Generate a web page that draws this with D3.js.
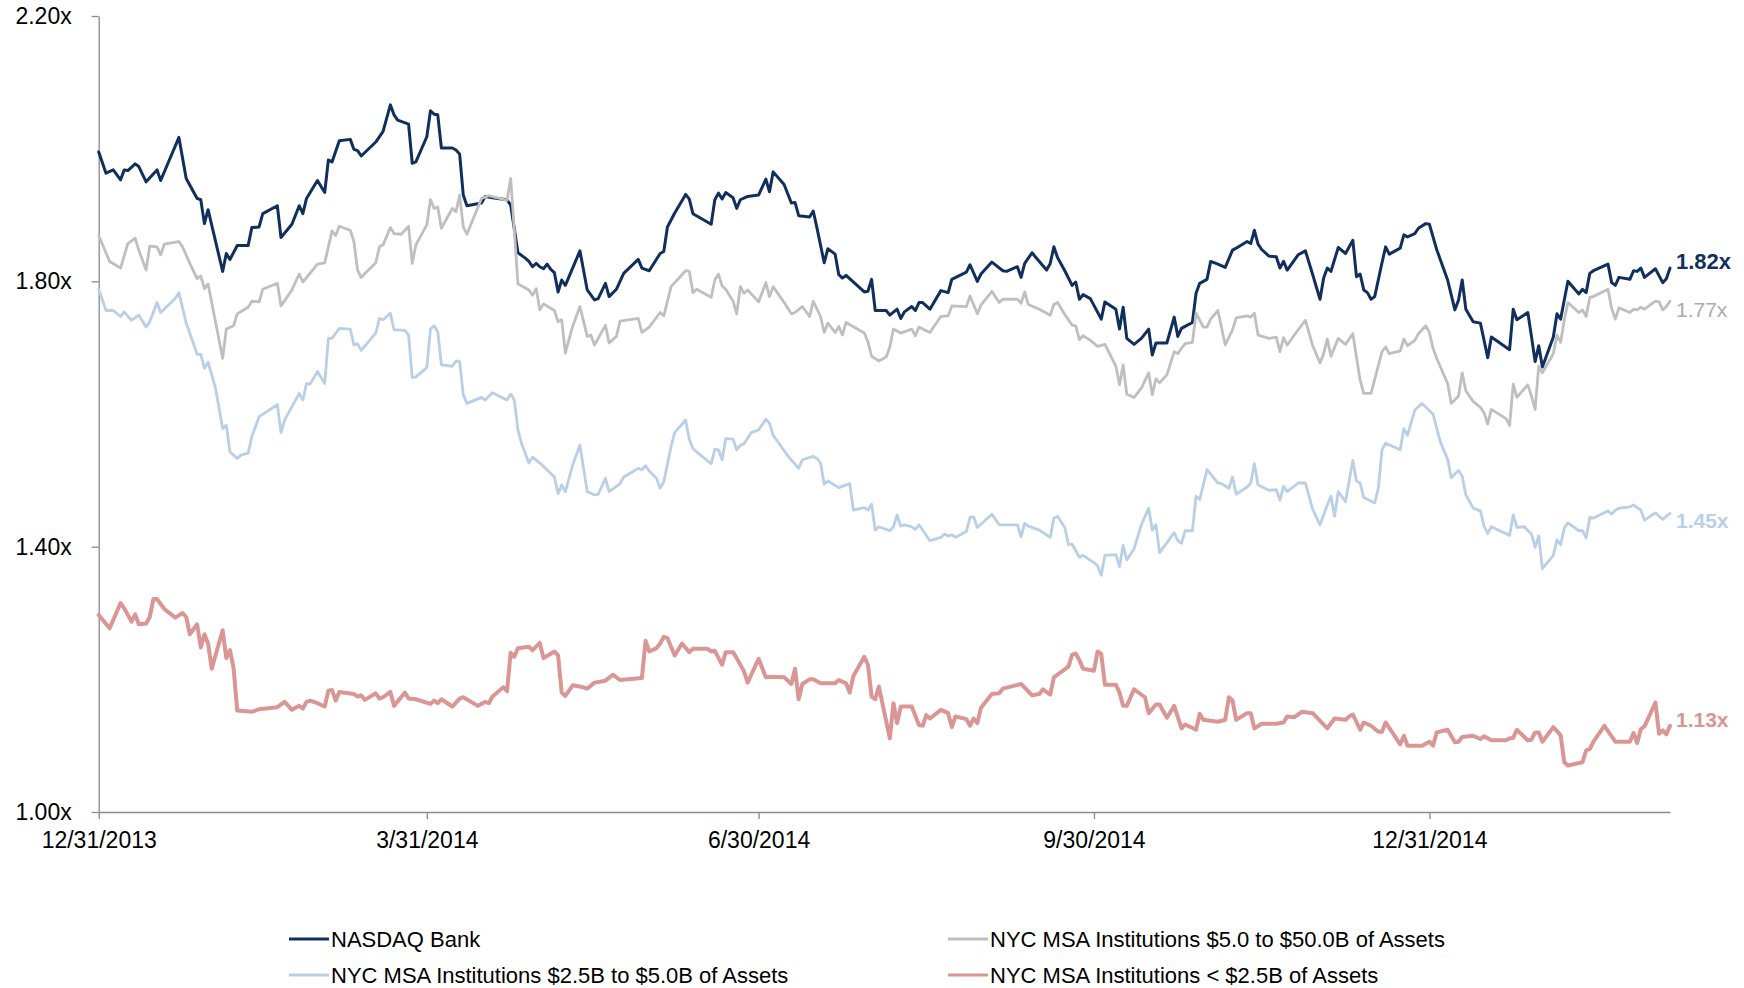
<!DOCTYPE html>
<html>
<head>
<meta charset="utf-8">
<script src="https://cdn.jsdelivr.net/npm/d3@7"></script>
<style>
  html, body { margin: 0; padding: 0; background: #fff; }
  svg { display: block; font-family: "Liberation Sans", Arial, Helvetica, sans-serif; }
</style>
</head>
<body>
<svg id="chart" width="1744" height="988"></svg>
<script>
// Price / tangible book multiples, sampled as [days after 12/31/2013, multiple]
const startDate = Date.UTC(2013, 11, 31);
const lastDay = 431;

const tickDates = [Date.UTC(2013, 11, 31), Date.UTC(2014, 2, 31), Date.UTC(2014, 5, 30), Date.UTC(2014, 8, 30), Date.UTC(2014, 11, 31)];
const tickLabels = ["12/31/2013", "3/31/2014", "6/30/2014", "9/30/2014", "12/31/2014"];
const yTicks = [1.0, 1.4, 1.8, 2.2];

const seriesNames = [
  "NASDAQ Bank",
  "NYC MSA Institutions $5.0 to $50.0B of Assets",
  "NYC MSA Institutions $2.5B to $5.0B of Assets",
  "NYC MSA Institutions < $2.5B of Assets"
];

const nasdaqBank = [[0,1.995],[2,1.963],[4,1.968],[6,1.953],[7,1.968],[8,1.967],[10,1.977],[11,1.973],[13,1.950],[16,1.968],[17,1.952],[22,2.017],[24,1.955],[27,1.925],[28,1.923],[29,1.887],[30,1.908],[34,1.815],[35,1.842],[36,1.833],[38,1.854],[41,1.854],[42,1.881],[44,1.882],[45,1.902],[49,1.914],[50,1.866],[53,1.886],[55,1.914],[56,1.902],[57,1.925],[60,1.952],[62,1.934],[63,1.983],[64,1.980],[66,2.012],[69,2.014],[70,1.999],[71,1.997],[72,1.989],[76,2.010],[78,2.026],[80,2.066],[81,2.051],[82,2.043],[85,2.037],[86,1.978],[87,1.980],[90,2.018],[91,2.057],[92,2.052],[93,2.051],[94,2.001],[97,2.001],[98,1.998],[99,1.992],[100,1.930],[101,1.914],[105,1.918],[106,1.928],[108,1.926],[112,1.923],[113,1.915],[115,1.843],[117,1.835],[118,1.830],[119,1.822],[120,1.827],[121,1.822],[122,1.819],[123,1.826],[124,1.818],[125,1.813],[126,1.784],[127,1.802],[128,1.794],[132,1.846],[134,1.787],[136,1.772],[137,1.774],[139,1.797],[140,1.777],[142,1.788],[144,1.812],[148,1.833],[149,1.820],[151,1.816],[154,1.842],[155,1.845],[156,1.882],[158,1.903],[161,1.931],[162,1.924],[163,1.902],[168,1.886],[169,1.923],[170,1.933],[171,1.924],[172,1.934],[174,1.926],[175,1.910],[176,1.923],[178,1.928],[181,1.930],[183,1.954],[184,1.935],[185,1.965],[188,1.946],[190,1.918],[191,1.919],[192,1.899],[195,1.897],[196,1.906],[197,1.881],[199,1.828],[200,1.849],[202,1.841],[203,1.810],[204,1.805],[205,1.809],[210,1.784],[211,1.785],[212,1.803],[213,1.756],[216,1.756],[217,1.749],[219,1.758],[220,1.744],[221,1.754],[223,1.762],[224,1.756],[225,1.768],[226,1.768],[228,1.758],[231,1.786],[233,1.783],[234,1.803],[238,1.814],[239,1.825],[241,1.800],[242,1.811],[245,1.829],[248,1.816],[249,1.815],[252,1.822],[253,1.806],[254,1.827],[256,1.843],[258,1.830],[260,1.817],[261,1.827],[262,1.852],[263,1.836],[265,1.816],[267,1.794],[268,1.799],[269,1.773],[270,1.780],[272,1.774],[275,1.743],[276,1.769],[279,1.758],[280,1.728],[281,1.761],[282,1.714],[284,1.705],[286,1.714],[288,1.728],[289,1.689],[290,1.707],[293,1.707],[295,1.746],[296,1.717],[297,1.729],[298,1.732],[300,1.738],[301,1.782],[302,1.797],[304,1.803],[305,1.830],[307,1.826],[309,1.821],[311,1.847],[312,1.850],[315,1.860],[316,1.857],[317,1.877],[318,1.856],[319,1.848],[321,1.838],[323,1.837],[324,1.820],[325,1.830],[326,1.817],[329,1.840],[331,1.846],[333,1.810],[335,1.773],[336,1.805],[337,1.820],[338,1.815],[340,1.851],[342,1.842],[344,1.862],[345,1.807],[346,1.811],[347,1.787],[348,1.783],[349,1.773],[350,1.777],[352,1.828],[353,1.852],[354,1.841],[357,1.850],[358,1.870],[359,1.867],[361,1.872],[362,1.880],[364,1.887],[365,1.886],[366,1.867],[367,1.848],[370,1.802],[372,1.757],[373,1.772],[374,1.802],[375,1.758],[377,1.739],[379,1.737],[381,1.685],[382,1.716],[387,1.697],[388,1.758],[389,1.742],[392,1.753],[393,1.717],[394,1.679],[395,1.703],[396,1.671],[399,1.716],[400,1.751],[401,1.743],[402,1.772],[403,1.800],[406,1.781],[407,1.788],[408,1.783],[409,1.812],[410,1.816],[414,1.826],[415,1.798],[416,1.794],[417,1.806],[420,1.803],[421,1.816],[422,1.815],[423,1.820],[424,1.806],[427,1.819],[429,1.798],[430,1.804],[431,1.82]];

const nyc5to50 = [[0,1.869],[3,1.830],[6,1.820],[8,1.857],[10,1.865],[11,1.847],[13,1.817],[14,1.853],[16,1.852],[17,1.840],[18,1.856],[22,1.860],[23,1.852],[25,1.827],[27,1.804],[28,1.808],[29,1.789],[30,1.796],[34,1.684],[35,1.728],[37,1.733],[38,1.751],[41,1.761],[42,1.770],[44,1.769],[45,1.788],[49,1.797],[50,1.763],[53,1.787],[55,1.811],[56,1.799],[60,1.826],[62,1.828],[64,1.876],[65,1.869],[66,1.883],[69,1.877],[70,1.860],[71,1.817],[72,1.806],[76,1.828],[77,1.852],[78,1.855],[80,1.881],[81,1.872],[83,1.871],[85,1.883],[86,1.827],[87,1.855],[90,1.885],[91,1.923],[92,1.910],[93,1.912],[94,1.880],[97,1.910],[98,1.905],[99,1.930],[100,1.882],[101,1.871],[105,1.925],[107,1.929],[110,1.925],[112,1.922],[113,1.955],[114,1.877],[115,1.796],[118,1.787],[119,1.779],[120,1.789],[121,1.757],[122,1.766],[125,1.756],[126,1.739],[127,1.742],[128,1.692],[130,1.732],[132,1.762],[134,1.717],[135,1.719],[136,1.704],[139,1.734],[140,1.707],[142,1.717],[143,1.740],[148,1.744],[149,1.723],[151,1.731],[154,1.753],[155,1.748],[157,1.792],[161,1.816],[162,1.815],[163,1.783],[164,1.788],[168,1.776],[169,1.802],[170,1.811],[171,1.793],[172,1.788],[174,1.770],[175,1.751],[176,1.792],[177,1.782],[178,1.787],[181,1.769],[183,1.798],[184,1.777],[185,1.792],[188,1.768],[190,1.751],[191,1.753],[193,1.762],[195,1.747],[196,1.770],[198,1.747],[199,1.723],[200,1.737],[202,1.723],[203,1.732],[204,1.719],[205,1.738],[210,1.722],[211,1.709],[212,1.687],[214,1.680],[216,1.686],[217,1.701],[218,1.728],[220,1.722],[223,1.728],[224,1.718],[225,1.731],[226,1.728],[228,1.723],[231,1.747],[233,1.748],[234,1.763],[238,1.762],[239,1.778],[241,1.751],[242,1.764],[245,1.785],[247,1.768],[248,1.773],[249,1.773],[252,1.773],[253,1.767],[254,1.784],[255,1.765],[258,1.758],[261,1.749],[262,1.765],[263,1.768],[265,1.750],[267,1.734],[268,1.733],[269,1.712],[270,1.718],[272,1.711],[274,1.702],[276,1.705],[277,1.694],[279,1.672],[280,1.644],[281,1.674],[282,1.630],[284,1.625],[286,1.639],[288,1.662],[289,1.629],[290,1.653],[291,1.647],[293,1.659],[295,1.694],[296,1.691],[297,1.699],[298,1.706],[300,1.708],[301,1.752],[303,1.731],[304,1.731],[305,1.743],[307,1.756],[309,1.704],[311,1.727],[312,1.745],[315,1.748],[316,1.746],[317,1.752],[318,1.719],[321,1.714],[323,1.716],[324,1.694],[325,1.715],[326,1.704],[329,1.727],[331,1.741],[333,1.703],[335,1.677],[336,1.691],[337,1.713],[338,1.687],[340,1.714],[342,1.705],[344,1.721],[346,1.651],[347,1.631],[349,1.631],[352,1.694],[353,1.701],[354,1.691],[357,1.695],[358,1.713],[359,1.703],[361,1.711],[362,1.721],[364,1.733],[365,1.723],[366,1.699],[367,1.684],[370,1.646],[371,1.616],[373,1.627],[374,1.662],[375,1.635],[377,1.619],[379,1.610],[380,1.602],[381,1.585],[382,1.607],[386,1.593],[387,1.583],[388,1.645],[389,1.625],[392,1.644],[393,1.627],[394,1.607],[395,1.672],[396,1.662],[399,1.691],[400,1.719],[401,1.708],[402,1.742],[403,1.768],[406,1.753],[407,1.757],[408,1.747],[409,1.776],[410,1.777],[414,1.788],[415,1.759],[416,1.743],[417,1.760],[420,1.753],[421,1.758],[422,1.757],[423,1.761],[424,1.758],[427,1.770],[428,1.769],[429,1.757],[430,1.762],[431,1.77]];

const nyc25to5 = [[0,1.788],[2,1.756],[4,1.756],[6,1.747],[7,1.754],[9,1.741],[11,1.749],[13,1.731],[14,1.739],[16,1.768],[17,1.753],[21,1.774],[22,1.783],[24,1.737],[27,1.690],[28,1.690],[29,1.669],[30,1.678],[32,1.640],[34,1.578],[35,1.583],[36,1.543],[38,1.533],[39,1.538],[41,1.541],[42,1.566],[44,1.596],[49,1.614],[50,1.572],[51,1.591],[55,1.631],[56,1.621],[57,1.646],[58,1.645],[60,1.664],[62,1.646],[63,1.714],[64,1.714],[66,1.729],[69,1.728],[70,1.704],[71,1.706],[72,1.696],[76,1.722],[77,1.744],[78,1.742],[80,1.752],[81,1.727],[84,1.726],[85,1.719],[86,1.655],[87,1.656],[90,1.670],[91,1.728],[92,1.733],[93,1.724],[94,1.674],[97,1.672],[98,1.680],[99,1.679],[100,1.629],[101,1.616],[105,1.625],[106,1.621],[108,1.632],[112,1.621],[113,1.630],[114,1.621],[115,1.576],[116,1.555],[118,1.526],[119,1.535],[121,1.526],[125,1.505],[126,1.480],[127,1.493],[128,1.483],[130,1.523],[132,1.553],[134,1.483],[136,1.478],[137,1.479],[139,1.503],[140,1.483],[142,1.491],[143,1.495],[144,1.505],[148,1.518],[149,1.516],[150,1.522],[151,1.514],[153,1.503],[154,1.488],[155,1.498],[157,1.551],[158,1.572],[161,1.591],[162,1.562],[163,1.548],[164,1.543],[168,1.525],[169,1.547],[170,1.546],[171,1.531],[172,1.563],[174,1.562],[175,1.546],[176,1.553],[177,1.555],[179,1.572],[181,1.576],[183,1.592],[184,1.586],[185,1.568],[189,1.537],[192,1.518],[193,1.531],[196,1.536],[197,1.533],[198,1.526],[199,1.494],[200,1.499],[203,1.489],[206,1.495],[207,1.455],[210,1.459],[211,1.455],[212,1.464],[213,1.425],[214,1.430],[217,1.424],[218,1.430],[219,1.448],[220,1.431],[221,1.433],[223,1.430],[224,1.426],[225,1.433],[228,1.409],[231,1.414],[232,1.419],[233,1.416],[234,1.418],[235,1.414],[238,1.423],[239,1.444],[240,1.445],[241,1.429],[245,1.449],[247,1.433],[248,1.433],[252,1.433],[253,1.415],[254,1.435],[255,1.431],[258,1.425],[261,1.414],[262,1.443],[263,1.446],[265,1.429],[266,1.403],[267,1.404],[269,1.384],[270,1.387],[273,1.376],[274,1.371],[275,1.357],[276,1.387],[279,1.388],[280,1.370],[281,1.402],[282,1.380],[284,1.397],[286,1.433],[288,1.458],[289,1.425],[290,1.433],[291,1.391],[295,1.421],[296,1.409],[297,1.405],[298,1.424],[300,1.424],[301,1.476],[302,1.471],[304,1.516],[307,1.496],[308,1.495],[310,1.488],[311,1.505],[312,1.479],[315,1.490],[316,1.496],[317,1.525],[318,1.493],[321,1.485],[323,1.486],[324,1.470],[325,1.491],[326,1.483],[329,1.496],[331,1.496],[333,1.456],[335,1.433],[337,1.463],[338,1.476],[339,1.446],[340,1.483],[342,1.468],[344,1.530],[345,1.499],[346,1.496],[347,1.474],[350,1.466],[351,1.488],[352,1.546],[353,1.556],[357,1.546],[358,1.578],[359,1.568],[361,1.606],[363,1.616],[366,1.600],[368,1.558],[370,1.532],[371,1.504],[373,1.515],[374,1.506],[375,1.478],[377,1.458],[379,1.454],[380,1.431],[381,1.420],[382,1.430],[387,1.417],[388,1.448],[389,1.429],[391,1.430],[393,1.419],[394,1.399],[395,1.416],[396,1.367],[399,1.387],[400,1.410],[401,1.403],[402,1.428],[403,1.436],[406,1.424],[407,1.424],[408,1.413],[409,1.444],[410,1.443],[414,1.454],[415,1.449],[416,1.455],[417,1.458],[420,1.460],[421,1.463],[422,1.459],[423,1.455],[424,1.440],[427,1.451],[429,1.441],[430,1.446],[431,1.45]];

const nycUnder25 = [[0,1.297],[3,1.277],[6,1.315],[7,1.307],[9,1.287],[10,1.298],[11,1.283],[13,1.284],[14,1.294],[15,1.321],[16,1.321],[18,1.306],[21,1.293],[23,1.300],[24,1.294],[25,1.268],[27,1.283],[28,1.248],[29,1.268],[30,1.254],[31,1.216],[34,1.274],[35,1.232],[36,1.244],[37,1.217],[38,1.153],[42,1.151],[44,1.155],[49,1.158],[51,1.166],[53,1.154],[55,1.160],[56,1.156],[57,1.166],[58,1.168],[60,1.164],[62,1.159],[63,1.183],[64,1.184],[65,1.168],[66,1.181],[70,1.178],[71,1.174],[72,1.176],[73,1.169],[76,1.179],[77,1.171],[78,1.173],[80,1.181],[81,1.160],[84,1.180],[85,1.171],[87,1.170],[91,1.163],[92,1.168],[93,1.164],[94,1.170],[97,1.159],[99,1.171],[100,1.173],[104,1.160],[106,1.166],[107,1.164],[108,1.174],[111,1.188],[112,1.182],[113,1.240],[114,1.234],[115,1.247],[118,1.249],[119,1.244],[121,1.255],[122,1.232],[125,1.242],[126,1.236],[127,1.180],[128,1.175],[130,1.191],[133,1.188],[134,1.186],[136,1.195],[139,1.198],[141,1.207],[143,1.199],[149,1.202],[150,1.258],[151,1.242],[153,1.247],[154,1.254],[155,1.264],[156,1.262],[158,1.236],[160,1.254],[162,1.241],[163,1.246],[167,1.246],[168,1.242],[169,1.243],[171,1.222],[172,1.241],[174,1.241],[175,1.232],[177,1.212],[178,1.195],[181,1.231],[183,1.203],[184,1.204],[188,1.203],[190,1.193],[191,1.216],[192,1.170],[193,1.193],[195,1.200],[196,1.200],[198,1.194],[202,1.194],[203,1.199],[205,1.194],[206,1.180],[207,1.205],[210,1.234],[211,1.222],[212,1.174],[213,1.170],[214,1.189],[217,1.111],[218,1.164],[219,1.134],[220,1.159],[223,1.159],[225,1.131],[226,1.130],[227,1.146],[228,1.141],[231,1.154],[233,1.149],[234,1.128],[235,1.144],[238,1.140],[239,1.130],[240,1.141],[241,1.134],[242,1.157],[245,1.178],[247,1.179],[248,1.186],[253,1.193],[256,1.176],[258,1.178],[259,1.185],[261,1.177],[262,1.203],[263,1.207],[266,1.219],[267,1.237],[268,1.239],[269,1.229],[270,1.216],[273,1.213],[274,1.242],[275,1.238],[276,1.192],[279,1.192],[280,1.180],[281,1.160],[282,1.160],[284,1.185],[287,1.173],[288,1.149],[290,1.162],[291,1.162],[293,1.142],[295,1.160],[297,1.126],[298,1.132],[301,1.124],[302,1.148],[303,1.139],[307,1.136],[309,1.139],[310,1.173],[311,1.168],[312,1.139],[315,1.149],[316,1.149],[317,1.126],[319,1.133],[323,1.133],[325,1.135],[326,1.144],[328,1.143],[330,1.151],[333,1.149],[337,1.126],[339,1.141],[342,1.139],[343,1.144],[344,1.147],[346,1.124],[347,1.135],[349,1.130],[351,1.121],[352,1.121],[353,1.135],[357,1.102],[358,1.115],[359,1.100],[363,1.100],[365,1.106],[366,1.100],[367,1.120],[370,1.124],[372,1.105],[373,1.106],[374,1.113],[377,1.115],[379,1.110],[380,1.114],[382,1.108],[386,1.108],[387,1.111],[388,1.112],[389,1.124],[392,1.108],[393,1.109],[394,1.120],[395,1.120],[396,1.106],[399,1.128],[401,1.116],[402,1.075],[403,1.070],[407,1.075],[408,1.093],[409,1.095],[410,1.106],[413,1.130],[415,1.114],[416,1.106],[420,1.106],[421,1.119],[422,1.104],[423,1.125],[424,1.129],[427,1.165],[428,1.118],[429,1.123],[430,1.117],[431,1.13]];

// Styling for each series, in drawing order
const seriesStyles = [
  { data: nasdaqBank, color: "#112f5c", width: 3,   labelColor: "#112f5c", labelWeight: "bold",   labelSize: 22, labelDy: -6.5 },
  { data: nyc5to50,   color: "#bfbfbf", width: 2.8, labelColor: "#ababab", labelWeight: "normal", labelSize: 21, labelDy: 8 },
  { data: nyc25to5,   color: "#b9cfe8", width: 2.8, labelColor: "#b9cfe8", labelWeight: "bold",   labelSize: 21, labelDy: 6.5 },
  { data: nycUnder25, color: "#d99694", width: 4,   labelColor: "#d99694", labelWeight: "bold",   labelSize: 21, labelDy: -6 }
];

const svg = d3.select("#chart");
const plotLeft = 98.7, plotRight = 1670, plotTop = 16, plotBottom = 812;

const toDate = d => d3.utcDay.offset(new Date(startDate), d);

const x = d3.scaleUtc()
  .domain([new Date(startDate), toDate(lastDay)])
  .range([plotLeft, plotRight]);

const y = d3.scaleLinear()
  .domain([1.0, 2.2])
  .range([plotBottom, plotTop]);

const axisColor = "#8a8a8a";

// y axis
const yAxis = svg.append("g")
  .attr("transform", `translate(${plotLeft},0)`)
  .call(d3.axisLeft(y)
    .tickValues(yTicks)
    .tickFormat(d => d.toFixed(2) + "x")
    .tickSize(7)
    .tickSizeOuter(0)
    .tickPadding(20));
yAxis.select(".domain").attr("stroke", axisColor).attr("stroke-width", 1.3);
yAxis.selectAll(".tick line").attr("stroke", axisColor).attr("stroke-width", 1.3);
yAxis.selectAll(".tick text")
  .attr("fill", "#000")
  .style("font-size", "23px")
  .style("font-family", "'Liberation Sans', Arial, sans-serif");

// x axis
const xAxis = svg.append("g")
  .attr("transform", `translate(0,${plotBottom})`)
  .call(d3.axisBottom(x)
    .tickValues(tickDates.map(t => new Date(t)))
    .tickFormat((d, i) => tickLabels[i])
    .tickSize(7)
    .tickSizeOuter(0)
    .tickPadding(13));
xAxis.select(".domain").attr("stroke", axisColor).attr("stroke-width", 1.3);
xAxis.selectAll(".tick line").attr("stroke", axisColor).attr("stroke-width", 1.3);
xAxis.selectAll(".tick text")
  .attr("fill", "#000")
  .style("font-size", "23px")
  .style("font-family", "'Liberation Sans', Arial, sans-serif");

// series lines
const line = d3.line()
  .x(d => x(toDate(d[0])))
  .y(d => y(d[1]));

svg.append("g")
  .selectAll("path")
  .data(seriesStyles)
  .join("path")
  .attr("d", s => line(s.data))
  .attr("fill", "none")
  .attr("stroke", s => s.color)
  .attr("stroke-width", s => s.width)
  .attr("stroke-linejoin", "round")
  .attr("stroke-linecap", "round");

// end-of-series value labels
svg.append("g")
  .selectAll("text")
  .data(seriesStyles)
  .join("text")
  .attr("x", s => x(toDate(s.data[s.data.length - 1][0])) + 6)
  .attr("y", s => y(s.data[s.data.length - 1][1]) + s.labelDy)
  .attr("dominant-baseline", "central")
  .attr("fill", s => s.labelColor)
  .attr("font-weight", s => s.labelWeight)
  .style("font-size", s => s.labelSize + "px")
  .text(s => s.data[s.data.length - 1][1].toFixed(2) + "x");

// legend: two columns, filled row by row
const legendCols = [289, 948];
const legendRows = [939, 975];
const legend = svg.append("g")
  .selectAll("g")
  .data(seriesStyles)
  .join("g")
  .attr("transform", (s, i) => `translate(${legendCols[i % 2]},${legendRows[Math.floor(i / 2)]})`);

legend.append("line")
  .attr("x1", 0).attr("x2", 40)
  .attr("y1", 0).attr("y2", 0)
  .attr("stroke", s => s.color)
  .attr("stroke-width", 3.2);

legend.append("text")
  .attr("x", 42)
  .attr("y", 0)
  .attr("dominant-baseline", "central")
  .attr("fill", "#000")
  .style("font-size", "22px")
  .text((s, i) => seriesNames[i]);
</script>
</body>
</html>
